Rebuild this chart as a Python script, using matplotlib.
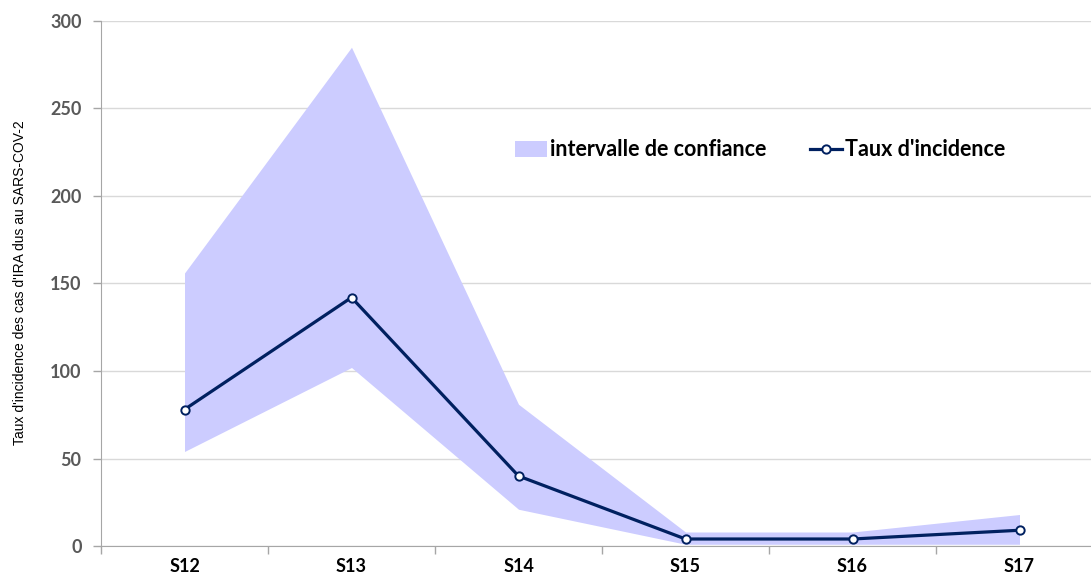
import matplotlib
matplotlib.use("Agg")
import matplotlib.pyplot as plt
import numpy as np

# --- DATA ---
weeks = ["S12", "S13", "S14", "S15", "S16", "S17"]
taux = [78, 142, 40, 4, 4, 9]
ic_low = [54, 102, 21, 1, 1, 1]
ic_high = [156, 285, 81, 8, 8, 18]

# --- STYLE ---
navy = "#002060"
band = "#CCCCFF"
grid_col = "#D9D9D9"
axis_col = "#A6A6A6"

fig = plt.figure(figsize=(10.91, 5.80), dpi=100)
ax = fig.add_axes([101 / 1091, 34 / 580, 1002 / 1091, 525 / 580])

x = np.arange(len(weeks))
ax.fill_between(x, ic_low, ic_high, color=band, linewidth=0,
                label="intervalle de confiance", zorder=2)
ax.plot(x, taux, color=navy, linewidth=2.3, marker="o", markersize=6,
        markerfacecolor="white", markeredgecolor=navy, markeredgewidth=1.4,
        label="Taux d'incidence", zorder=3)

ax.set_xlim(-0.5, len(weeks) - 0.5)
ax.set_ylim(0, 300)
ax.set_yticks(range(0, 301, 50))
ax.yaxis.grid(True, color=grid_col, linewidth=1)
ax.set_axisbelow(True)

# category boundaries get the tick marks, labels sit in the middle
ax.set_xticks(np.arange(-0.5, len(weeks), 1.0))
ax.set_xticklabels([])
ax.set_xticks(x, minor=True)
ax.set_xticklabels(weeks, minor=True)
ax.tick_params(axis="x", which="major", length=6, color=axis_col, width=1)
ax.tick_params(axis="x", which="minor", length=0, pad=9)
ax.tick_params(axis="y", length=6, color=axis_col, width=1, pad=8)

for lab in ax.get_xticklabels(minor=True):
    lab.set_fontfamily("Lato")
    lab.set_fontweight("bold")
    lab.set_fontsize(13)
    lab.set_color("black")
for lab in ax.get_yticklabels():
    lab.set_fontfamily("Lato")
    lab.set_fontweight("bold")
    lab.set_fontsize(13)
    lab.set_color("#595959")

for side in ["top", "right"]:
    ax.spines[side].set_visible(False)
for side in ["left", "bottom"]:
    ax.spines[side].set_color(axis_col)

fig.text(20 / 1091, 1 - 283 / 580, "Taux d'incidence des cas d'IRA dus au SARS-COV-2",
         rotation=90, ha="center", va="center", fontsize=10,
         fontfamily="Liberation Sans", color="black")

fig.legend(loc="center", bbox_to_anchor=(760 / 1091, 1 - 150 / 580), ncol=2,
           frameon=False, prop={"family": "Lato", "weight": "bold", "size": 15.5},
           handlelength=1.5, handletextpad=0.15, columnspacing=2.0)

fig.savefig("out.png", dpi=100)
